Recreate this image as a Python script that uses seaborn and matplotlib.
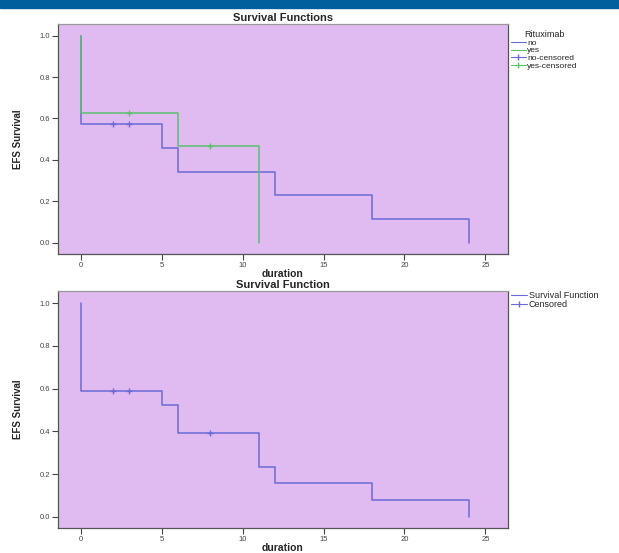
import matplotlib
matplotlib.use("Agg")
import matplotlib.pyplot as plt
import seaborn as sns
import pandas as pd
from matplotlib.lines import Line2D
from matplotlib.patches import Rectangle

sns.set_style("white")
plt.rcParams["font.family"] = ["Liberation Sans", "DejaVu Sans"]

# Kaplan-Meier steps by Rituximab group
no_time = [0, 0, 5, 6, 12, 18, 24]
no_surv = [1.0, 0.571, 0.457, 0.343, 0.229, 0.114, 0.0]
yes_time = [0, 0, 6, 11]
yes_surv = [1.0, 0.625, 0.469, 0.0]
no_cens_time = [2, 3]
no_cens_surv = [0.571, 0.571]
yes_cens_time = [3, 8]
yes_cens_surv = [0.625, 0.469]

# overall survival function
all_time = [0, 0, 5, 6, 11, 12, 18, 24]
all_surv = [1.0, 0.588, 0.523, 0.392, 0.235, 0.157, 0.078, 0.0]
all_cens_time = [2, 3, 8]
all_cens_surv = [0.588, 0.588, 0.392]

xticks = [0, 5, 10, 15, 20, 25]
yticks = [0.0, 0.2, 0.4, 0.6, 0.8, 1.0]

bg = "#dfbbf2"
blue = "#6a6ad6"
green = "#5cbf6c"

W, H = 619, 553
fig = plt.figure(figsize=(W / 100, H / 100), dpi=100)
fig.patches.append(Rectangle((0, 1 - 8 / H), 1, 8 / H, transform=fig.transFigure,
                             color="#005f9c", zorder=0))

ax1 = fig.add_axes([58 / W, 1 - 254 / H, 450 / W, 230 / H])
ax2 = fig.add_axes([58 / W, 1 - 528 / H, 450 / W, 237 / H])


def step(ax, t, s, color):
    df = pd.DataFrame({"t": t, "s": s})
    sns.lineplot(data=df, x="t", y="s", ax=ax, color=color, lw=1.1,
                 drawstyle="steps-post", estimator=None, sort=False)


def cens(ax, t, s, color):
    df = pd.DataFrame({"t": t, "s": s})
    sns.scatterplot(data=df, x="t", y="s", ax=ax, color=color, marker="+",
                    s=16, linewidth=1.0, zorder=5)


step(ax1, no_time, no_surv, blue)
step(ax1, yes_time, yes_surv, green)
cens(ax1, no_cens_time, no_cens_surv, blue)
cens(ax1, yes_cens_time, yes_cens_surv, green)

step(ax2, all_time, all_surv, blue)
cens(ax2, all_cens_time, all_cens_surv, blue)

for ax, ylim, title in [(ax1, (-0.054, 1.056), "Survival Functions"),
                        (ax2, (-0.052, 1.057), "Survival Function")]:
    ax.set_facecolor(bg)
    ax.set_xlim(-1.42, 26.4)
    ax.set_ylim(*ylim)
    ax.set_xticks(xticks)
    ax.set_yticks(yticks)
    ax.set_xticklabels([str(v) for v in xticks])
    ax.set_yticklabels([f"{v:.1f}" for v in yticks])
    ax.tick_params(axis="both", length=4, width=0.8, color="#444444",
                   labelsize=5.5, labelcolor="#444444", pad=1.5)
    ax.tick_params(left=True, bottom=True)
    for sp in ax.spines.values():
        sp.set_color("#555555")
        sp.set_linewidth(0.9)
    ax.spines["top"].set_color("#999999")
    ax.set_title(title, fontsize=8, fontweight="bold", pad=2)
    ax.set_xlabel("duration", fontsize=7.5, fontweight="bold", labelpad=0)
    ax.set_ylabel("EFS Survival", fontsize=7, fontweight="bold", labelpad=12)

h1 = [Line2D([], [], color=blue, lw=0.8, drawstyle="steps-post"),
      Line2D([], [], color=green, lw=0.8, drawstyle="steps-post"),
      Line2D([], [], color=blue, lw=0.8, marker="|", markersize=5),
      Line2D([], [], color=green, lw=0.8, marker="|", markersize=5)]
leg1 = ax1.legend(h1, ["no", "yes", "no-censored", "yes-censored"],
                  title="Rituximab", loc="upper left", bbox_to_anchor=(1.006, 0.975),
                  frameon=False, fontsize=6, title_fontsize=6.5,
                  handlelength=1.8, handletextpad=0.2, labelspacing=0.0,
                  borderaxespad=0, borderpad=0)
leg1._legend_box.align = "center"

h2 = [Line2D([], [], color=blue, lw=0.8),
      Line2D([], [], color=blue, lw=0.8, marker="|", markersize=5)]
ax2.legend(h2, ["Survival Function", "Censored"], loc="upper left",
           bbox_to_anchor=(1.006, 1.0), frameon=False, fontsize=6.5,
           handlelength=1.8, handletextpad=0.2, labelspacing=0.0,
           borderaxespad=0, borderpad=0)

fig.savefig("out.png", dpi=100, facecolor="white")
